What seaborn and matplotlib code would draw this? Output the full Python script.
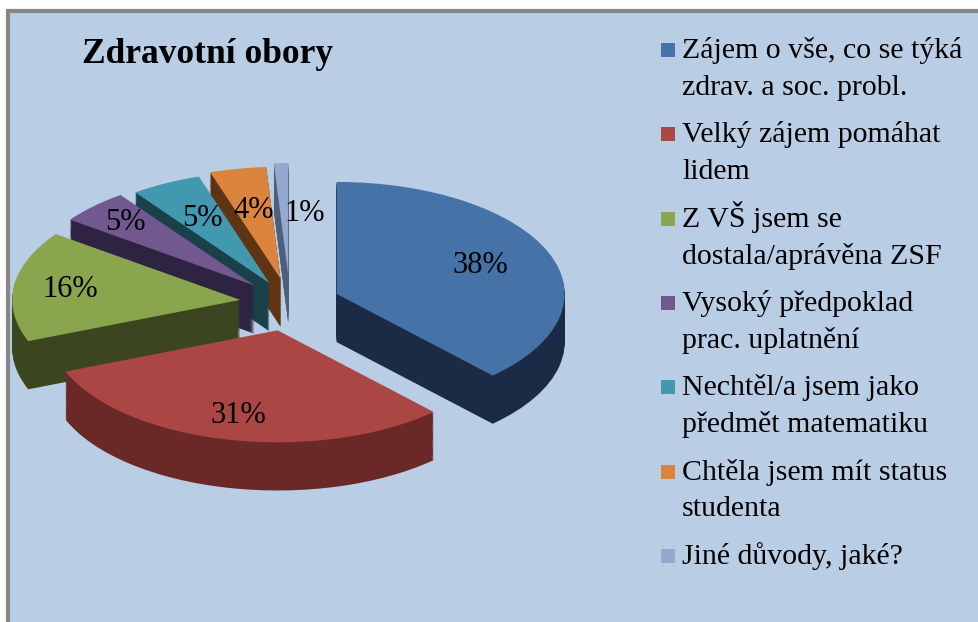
import numpy as np
import matplotlib
matplotlib.use("Agg")
import matplotlib.pyplot as plt
from matplotlib.patches import Rectangle
import seaborn as sns

# Data
categories = [
    "Zájem o vše, co se týká\nzdrav. a soc. probl.",
    "Velký zájem pomáhat\nlidem",
    "Z VŠ jsem se\ndostala/aprávěna ZSF",
    "Vysoký předpoklad\nprac. uplatnění",
    "Nechtěl/a jsem jako\npředmět matematiku",
    "Chtěla jsem mít status\nstudenta",
    "Jiné důvody, jaké?",
]
shares = [38, 31, 16, 5, 5, 4, 1]

top_colors = ["#4572A7", "#AA4643", "#89A54E", "#71588F", "#4198AF", "#DB843D", "#93A9CF"]
side_colors = ["#1C2B45", "#6A2927", "#3B4620", "#2E2340", "#1A404A", "#5E3413", "#4D5F7D"]
explode = [0.22, 0.25, 0.22, 0.22, 0.2, 0.22, 0.25]
label_dist = [0.68, 0.78, 0.75, 0.8, 0.65, 0.62, 0.55]

sns.set_style("white")
plt.rcParams["font.family"] = ["Liberation Serif", "DejaVu Serif"]
plt.rcParams["text.color"] = "black"

W, H = 979, 622
fig = plt.figure(figsize=(W / 100, H / 100), dpi=100)
fig.patch.set_facecolor("white")

# chart area background + border (cut off at right/bottom like the screenshot)
fig.patches.append(Rectangle((8 / W, -0.05), 1.1, 1 - 11 / H + 0.05,
                             transform=fig.transFigure, facecolor="#B9CDE5",
                             edgecolor="#878787", linewidth=3, zorder=-5))

ax = fig.add_axes([0, 0, 1, 1])
ax.set_facecolor("none")
ax.set_zorder(1)

# pseudo-3D: stack darker pies downwards for the sides
depth = 0.43
for k in np.linspace(depth, 0.01, 45):
    ax.pie(shares, explode=explode, colors=side_colors, startangle=90,
           counterclock=False, center=(0, -k), radius=1,
           wedgeprops=dict(linewidth=0, antialiased=True))

wedges, _ = ax.pie(shares, explode=explode, colors=top_colors, startangle=90,
                   counterclock=False, center=(0, 0), radius=1,
                   wedgeprops=dict(linewidth=0))

# percentage labels placed on each wedge's top face
for w, v, d in zip(wedges, shares, label_dist):
    ang = np.deg2rad((w.theta1 + w.theta2) / 2)
    x = w.center[0] + d * w.r * np.cos(ang)
    y = w.center[1] + d * w.r * np.sin(ang)
    ha = "left" if v == min(shares) else "center"
    ax.text(x, y, f"{v}%", fontsize=22, ha=ha, va="center", color="black")

# pixel mapping: center ~ (290, 303) px, rx 228 px, ry 112 px
cx, cy, rx, ry = 290, 303, 228, 112
ax.set_aspect("auto")
ax.set_xlim((0 - cx) / rx, (W - cx) / rx)
ax.set_ylim((cy - H) / ry, cy / ry)
ax.axis("off")

# title
fig.text(82 / W, 1 - 63 / H, "Zdravotní obory", fontsize=25.5, fontweight="bold",
         ha="left", va="baseline", color="black", zorder=5)

# legend (squares aligned with first line of each entry)
for i, (lab, col) in enumerate(zip(categories, top_colors)):
    yc = 50 + 84.3 * i
    fig.patches.append(Rectangle((661 / W, 1 - (yc + 7) / H), 14 / W, 14 / H,
                                 transform=fig.transFigure, facecolor=col,
                                 edgecolor="none", zorder=3))
    for j, line in enumerate(lab.split("\n")):
        fig.text(682 / W, 1 - (yc + 8 + 37 * j) / H, line, fontsize=21.5,
                 ha="left", va="baseline", color="black", zorder=5)

fig.savefig("out.png", dpi=100)
